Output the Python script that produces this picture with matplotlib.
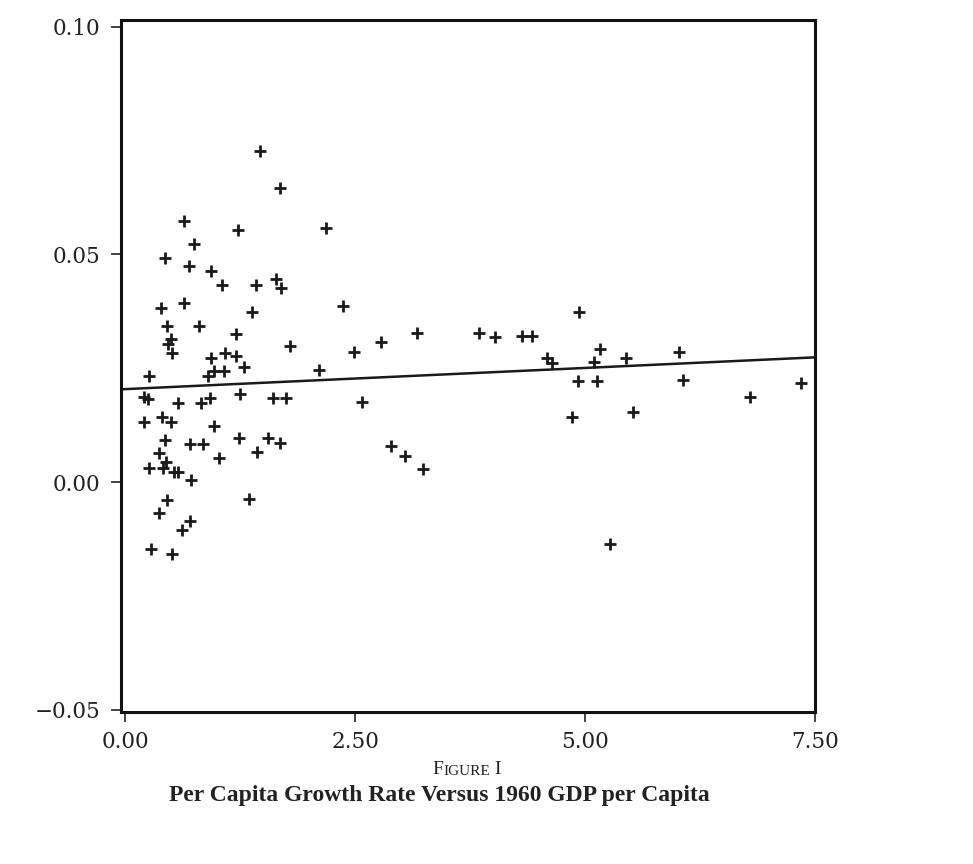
import matplotlib.pyplot as plt
import numpy as np

# GDP per capita 1960 (thousands) and per capita growth rate
gdp_1960 = [
    1.469, 1.681, 0.637, 1.230, 2.184, 0.751, 0.435, 0.689, 0.936, 1.052,
    1.420, 1.640, 1.690, 0.392, 0.637, 1.376, 2.370, 0.452, 0.807, 1.200,
    0.493, 0.465, 1.790, 0.508, 0.936, 1.088, 1.205, 1.295, 0.961, 0.906,
    1.077, 0.261, 2.103, 0.207, 0.243, 0.573, 0.827, 0.922, 1.251, 1.610,
    1.749, 0.203, 0.399, 0.497, 0.965, 0.435, 0.704, 0.845, 1.233, 1.548,
    1.679, 0.373, 1.429, 1.020, 0.261, 0.406, 0.443, 0.533, 0.577, 0.718,
    0.460, 1.349, 0.370, 0.704, 0.623, 0.280, 0.504, 2.783, 3.172, 2.492,
    2.576, 2.894, 3.044, 3.235, 3.844, 4.018, 4.317, 4.421, 4.589, 4.643,
    4.940, 4.922, 4.858, 5.165, 5.103, 5.133, 5.444, 5.528, 5.277, 6.021,
    6.064, 6.790, 7.345,
]
growth = [
    0.0728, 0.0646, 0.0573, 0.0554, 0.0557, 0.0522, 0.0493, 0.0474, 0.0464, 0.0433,
    0.0433, 0.0446, 0.0426, 0.0382, 0.0393, 0.0374, 0.0387, 0.0342, 0.0343, 0.0324,
    0.0313, 0.0303, 0.0298, 0.0283, 0.0273, 0.0284, 0.0276, 0.0253, 0.0244, 0.0233,
    0.0244, 0.0232, 0.0246, 0.0187, 0.0182, 0.0173, 0.0173, 0.0184, 0.0194, 0.0185,
    0.0185, 0.0131, 0.0142, 0.0131, 0.0123, 0.0093, 0.0083, 0.0083, 0.0096, 0.0097,
    0.0085, 0.0064, 0.0066, 0.0053, 0.0030, 0.0030, 0.0044, 0.0023, 0.0023, 0.0004,
    -0.0040, -0.0037, -0.0067, -0.0086, -0.0106, -0.0148, -0.0158, 0.0307, 0.0327, 0.0286,
    0.0176, 0.0078, 0.0057, 0.0029, 0.0328, 0.0319, 0.0320, 0.0320, 0.0272, 0.0261,
    0.0373, 0.0221, 0.0142, 0.0292, 0.0263, 0.0221, 0.0273, 0.0153, -0.0137, 0.0285,
    0.0225, 0.0186, 0.0217,
]

# fitted line (intercept, slope) as drawn in the figure
fit_intercept = 0.0204
fit_slope = 0.00093

x_ticks = [0.0, 2.5, 5.0, 7.5]
y_ticks = [-0.05, 0.0, 0.05, 0.10]
y_tick_labels = ['\u22120.05', '0.00', '0.05', '0.10']

plt.rcParams['font.family'] = ['DejaVu Serif']

fig = plt.figure(figsize=(9.73, 8.64), dpi=100)
ax = fig.add_axes([0.1244, 0.176, 0.713, 0.801])

ax.plot(gdp_1960, growth, linestyle='none', marker='+', markersize=8.5,
        markeredgewidth=2.0, color='#1a1a1a')

# regression line across the whole x range
xlim = (-0.045, 7.5)
line_x = np.array(xlim)
ax.plot(line_x, fit_intercept + fit_slope * line_x, color='#1a1a1a', linewidth=1.8)

ax.set_xlim(*xlim)
ax.set_ylim(-0.0505, 0.1015)
ax.set_xticks(x_ticks)
ax.set_xticklabels(['%.2f' % v for v in x_ticks], fontfamily='DejaVu Serif')
ax.set_yticks(y_ticks)
ax.set_yticklabels(y_tick_labels, fontfamily='DejaVu Serif')
ax.tick_params(direction='out', length=7, width=1.2, labelsize=15.5,
               colors='#222222', pad=8)
ax.tick_params(axis='x', pad=7)
for s in ax.spines.values():
    s.set_linewidth(2.2)
    s.set_color('#111111')

# caption, "FIGURE I" in small caps
cap = dict(family='Liberation Serif', color='#222222')
t_f = fig.text(0.4445, 0.1, 'F', fontsize=14, ha='left', va='bottom', **cap)
t_mid = ax.annotate('IGURE', xy=(1, 0), xycoords=t_f, ha='left', va='bottom',
                    fontsize=11, annotation_clip=False, **cap)
ax.annotate(' I', xy=(1, 0), xycoords=t_mid, ha='left', va='bottom',
            fontsize=14, annotation_clip=False, **cap)
fig.text(0.452, 0.073, 'Per Capita Growth Rate Versus 1960 GDP per Capita',
         fontsize=17, ha='center', va='baseline', fontweight='bold', **cap)

fig.savefig('out.png', dpi=100)
